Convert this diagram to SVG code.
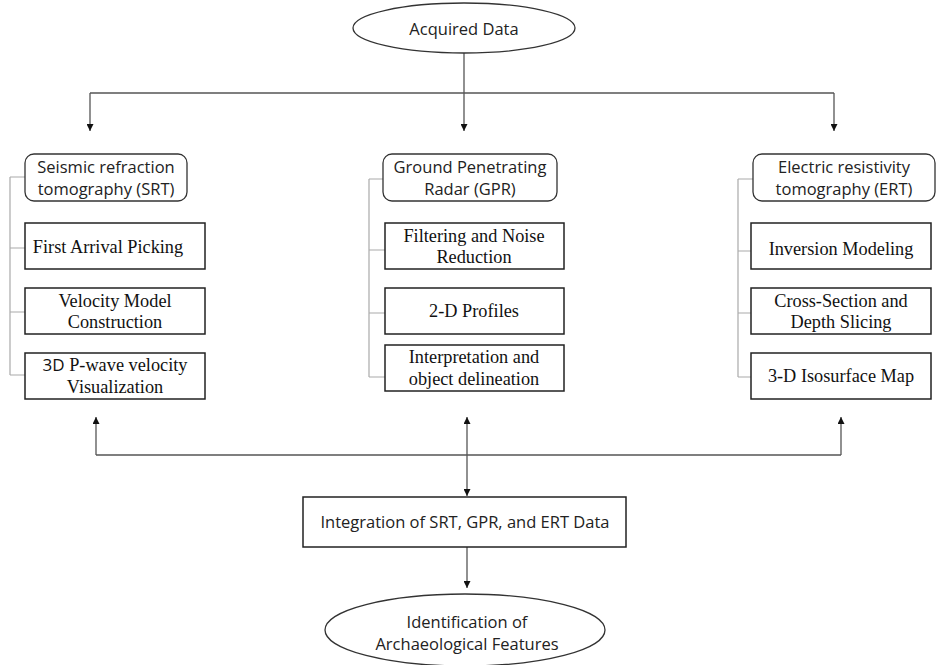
<svg xmlns="http://www.w3.org/2000/svg" width="942" height="665" viewBox="0 0 942 665">
<defs>
<marker id="ah" viewBox="0 0 10 10" refX="10" refY="5" markerWidth="7" markerHeight="7" markerUnits="userSpaceOnUse" orient="auto">
<path d="M0,0 L10,5 L0,10 z" fill="#111"/>
</marker>
<style>
.sans{font-family:"Open Sans","Noto Sans","DejaVu Sans",sans-serif;font-size:16.5px;fill:#222;text-anchor:middle}
.serif{font-family:"Liberation Serif","Times New Roman",serif;font-size:18.3px;fill:#111;text-anchor:middle}
.box{fill:#fff;stroke:#222;stroke-width:1.5}
.hdr{fill:#fff;stroke:#333;stroke-width:1.3}
.conn{fill:none;stroke:#555;stroke-width:1.3}
.br{fill:none;stroke:#aaa;stroke-width:1.2}
</style>
</defs>
<rect width="942" height="665" fill="#fff"/>

<g id="connectors">
<path class="conn" d="M464,53 V131" marker-end="url(#ah)"/>
<path class="conn" d="M90,93 H834"/>
<path class="conn" d="M90,93 V131" marker-end="url(#ah)"/>
<path class="conn" d="M834,93 V131" marker-end="url(#ah)"/>
<path class="conn" d="M96,455 V417" marker-end="url(#ah)"/>
<path class="conn" d="M841,455 V417" marker-end="url(#ah)"/>
<path class="conn" d="M96,455 H841"/>
<path class="conn" d="M467,455 V417" marker-end="url(#ah)"/>
<path class="conn" d="M467,455 V496" marker-end="url(#ah)"/>
<path class="conn" d="M467,547 V588" marker-end="url(#ah)"/>
<path class="br" d="M10,177 V375 M10,177 H25 M10,248 H25 M10,312 H25 M10,375 H25"/>
<path class="br" d="M369,179 V377 M369,179 H383 M369,250 H385 M369,313 H385 M369,377 H385"/>
<path class="br" d="M738,179 V377 M738,179 H753 M738,251 H751 M738,313 H751 M738,377 H751"/>
</g>

<g id="acquired">
<ellipse class="hdr" cx="464" cy="28" rx="111" ry="25"/>
<text class="sans" x="464" y="35">Acquired Data</text>
</g>

<g id="srt">
<rect class="hdr" x="25" y="154" width="162" height="47" rx="9"/>
<text class="sans" x="106" y="173">Seismic refraction</text>
<text class="sans" x="106" y="195">tomography (SRT)</text>
</g>
<g id="srt1">
<rect class="box" x="25" y="223" width="180" height="46"/>
<text class="serif" x="108" y="253">First Arrival Picking</text>
</g>
<g id="srt2">
<rect class="box" x="25" y="288" width="180" height="46"/>
<text class="serif" x="115" y="307">Velocity Model</text>
<text class="serif" x="115" y="328">Construction</text>
</g>
<g id="srt3">
<rect class="box" x="25" y="353" width="180" height="46"/>
<text class="serif" x="115" y="371"><tspan style="font-family:'Open Sans','Noto Sans',sans-serif;font-size:17px">3D</tspan> P-wave velocity</text>
<text class="serif" x="115" y="393">Visualization</text>
</g>

<g id="gpr">
<rect class="hdr" x="383" y="154" width="174" height="47" rx="9"/>
<text class="sans" x="470" y="173">Ground Penetrating</text>
<text class="sans" x="470" y="195">Radar (GPR)</text>
</g>
<g id="gpr1">
<rect class="box" x="385" y="223" width="179" height="46"/>
<text class="serif" x="474" y="242">Filtering and Noise</text>
<text class="serif" x="474" y="263">Reduction</text>
</g>
<g id="gpr2">
<rect class="box" x="385" y="288" width="179" height="46"/>
<text class="serif" x="474" y="317">2-D Profiles</text>
</g>
<g id="gpr3">
<rect class="box" x="385" y="345" width="179" height="46"/>
<text class="serif" x="474" y="363">Interpretation and</text>
<text class="serif" x="474" y="385">object delineation</text>
</g>

<g id="ert">
<rect class="hdr" x="753" y="154" width="182" height="47" rx="9"/>
<text class="sans" x="844" y="173">Electric resistivity</text>
<text class="sans" x="844" y="195">tomography (ERT)</text>
</g>
<g id="ert1">
<rect class="box" x="751" y="223" width="180" height="46"/>
<text class="serif" x="841" y="255">Inversion Modeling</text>
</g>
<g id="ert2">
<rect class="box" x="751" y="288" width="180" height="46"/>
<text class="serif" x="841" y="307">Cross-Section and</text>
<text class="serif" x="841" y="328">Depth Slicing</text>
</g>
<g id="ert3">
<rect class="box" x="751" y="353" width="180" height="46"/>
<text class="serif" x="841" y="382">3-D Isosurface Map</text>
</g>

<g id="integration">
<rect class="box" x="303" y="497" width="323" height="50"/>
<text class="sans" x="465" y="528">Integration of SRT, GPR, and ERT Data</text>
</g>

<g id="identification">
<ellipse class="hdr" cx="465" cy="630" rx="140" ry="36"/>
<text class="sans" x="467" y="628">Identification of</text>
<text class="sans" x="467" y="650">Archaeological Features</text>
</g>
</svg>
